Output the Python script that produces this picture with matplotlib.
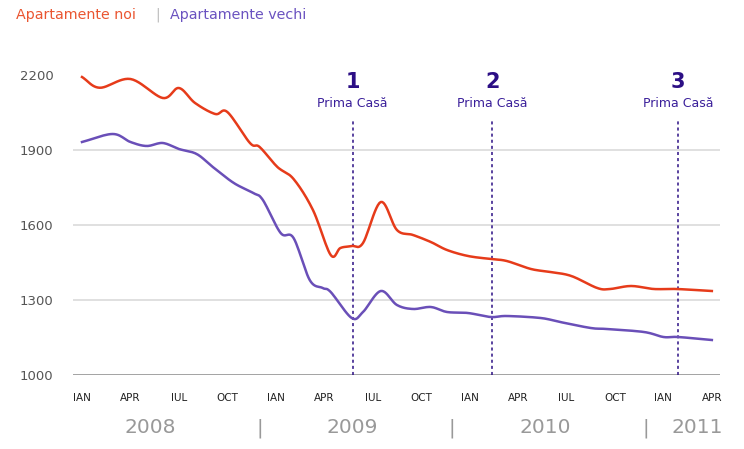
import matplotlib.pyplot as plt
import numpy as np

# readings: month index (0 = IAN 2008) and price (EUR/mp)
noi_x = [0, 1.1, 3, 5, 6, 7, 8.25, 9, 10.4, 11, 12.1, 13.1, 14.3, 15.4, 16, 16.7,
         17.4, 18.5, 19.5, 20.5, 21.6, 22.6, 23.9, 25.3, 26.3, 27.8, 29, 30.3,
         31.9, 32.7, 34, 35.4, 36.8, 39]
noi_y = [2192, 2149, 2184, 2108, 2148, 2088, 2044, 2052, 1928, 1912, 1832, 1784, 1660,
         1480, 1508, 1516, 1528, 1692, 1580, 1560, 1532, 1500, 1476, 1464, 1456, 1424,
         1412, 1396, 1348, 1344, 1356, 1344, 1344, 1336]

vechi_x = [0, 1.9, 3, 4, 5, 6, 7.1, 8.1, 9.4, 10.6, 11.2, 12.3, 13.1, 14.1, 14.9,
           15.4, 16.7, 17.4, 18.5, 19.5, 20.5, 21.6, 22.6, 23.9, 25.3, 26.3, 28.4,
           29.6, 31.5, 32.5, 34.8, 36, 36.9, 39]
vechi_y = [1932, 1964, 1932, 1916, 1928, 1904, 1884, 1832, 1768, 1728, 1700, 1568, 1548,
           1380, 1348, 1332, 1228, 1252, 1336, 1280, 1264, 1272, 1252, 1248, 1232, 1236,
           1228, 1212, 1188, 1184, 1172, 1152, 1152, 1140]

prima_casa_x = [16.75, 25.4, 36.9]
prima_casa_labels = ['1', '2', '3']

month_labels = ['IAN', 'APR', 'IUL', 'OCT'] * 3 + ['IAN', 'APR']
years = ['2008', '2009', '2010', '2011']
year_x = [4.2, 16.7, 28.7, 38.1]
sep_x = [11.0, 22.9, 34.9]

RED = '#e63b1a'
PURPLE = '#6a4fb8'
DARK = '#2c0f85'


def smooth(x, y, n=12):
    # catmull-rom style spline, like the original's smoothed lines
    x = np.asarray(x, float)
    y = np.asarray(y, float)
    px = np.concatenate([[2 * x[0] - x[1]], x, [2 * x[-1] - x[-2]]])
    py = np.concatenate([[2 * y[0] - y[1]], y, [2 * y[-1] - y[-2]]])
    xs, ys = [], []
    t = np.linspace(0, 1, n, endpoint=False)
    for i in range(1, len(px) - 2):
        for arr, out in ((px, xs), (py, ys)):
            p0, p1, p2, p3 = arr[i - 1], arr[i], arr[i + 1], arr[i + 2]
            out.extend(0.5 * (2 * p1 + (-p0 + p2) * t
                              + (2 * p0 - 5 * p1 + 4 * p2 - p3) * t ** 2
                              + (-p0 + 3 * p1 - 3 * p2 + p3) * t ** 3))
    xs.append(x[-1])
    ys.append(y[-1])
    return xs, ys


fig = plt.figure(figsize=(7.44, 4.49), dpi=100)
ax = fig.add_axes([73 / 744, 1 - 375 / 449, 647 / 744, 315 / 449])

ax.set_xlim((73 - 82) / 16.15, (720 - 82) / 16.15)
ax.set_ylim(1000, 2260)

for v in [1300, 1600, 1900]:
    ax.axhline(v, color='#dddddd', lw=1.3, zorder=1)
ax.axhline(1000, color='#888888', lw=1.8, zorder=1)

for xv, lab in zip(prima_casa_x, prima_casa_labels):
    ax.vlines(xv, 1000, 2020, colors=DARK, linestyles=(0, (2, 2)), lw=1.1, zorder=2)
    ax.text(xv, 2172, lab, color=DARK, fontsize=15, fontweight='heavy',
            ha='center', va='center')
    ax.text(xv, 2088, 'Prima Casă', color='#3a1f9a', fontsize=9,
            ha='center', va='center')

sx, sy = smooth(noi_x, noi_y)
ax.plot(sx, sy, color=RED, lw=1.8, zorder=3)
sx, sy = smooth(vechi_x, vechi_y)
ax.plot(sx, sy, color=PURPLE, lw=1.8, zorder=3)

for s in ax.spines.values():
    s.set_visible(False)

ax.set_yticks([1000, 1300, 1600, 1900, 2200])
ax.set_yticklabels(['1000', '1300', '1600', '1900', '2200'], fontsize=9.5, color='#555555')
ax.set_xticks(np.arange(0, 40, 3))
ax.set_xticklabels(month_labels, fontsize=7.5, color='#222222')
ax.tick_params(axis='y', length=0, pad=14)
ax.tick_params(axis='x', length=0, pad=13)

tr = ax.get_xaxis_transform()
for xv, yr in zip(year_x, years):
    ax.text(xv, -0.168, yr, transform=tr, fontsize=14.5, color='#999999',
            ha='center', va='center')
for xv in sep_x:
    ax.text(xv, -0.168, '|', transform=tr, fontsize=14.5, color='#999999',
            ha='center', va='center')

# legend-like header
fig.text(16 / 744, 1 - 15 / 449, 'Apartamente noi', color='#ea5530', fontsize=10.3, va='center')
fig.text(155 / 744, 1 - 15 / 449, '|', color='#bbbbbb', fontsize=10.3, va='center')
fig.text(170 / 744, 1 - 15 / 449, 'Apartamente vechi', color='#6a52c0', fontsize=10.3, va='center')

fig.savefig('out.png', dpi=100)
